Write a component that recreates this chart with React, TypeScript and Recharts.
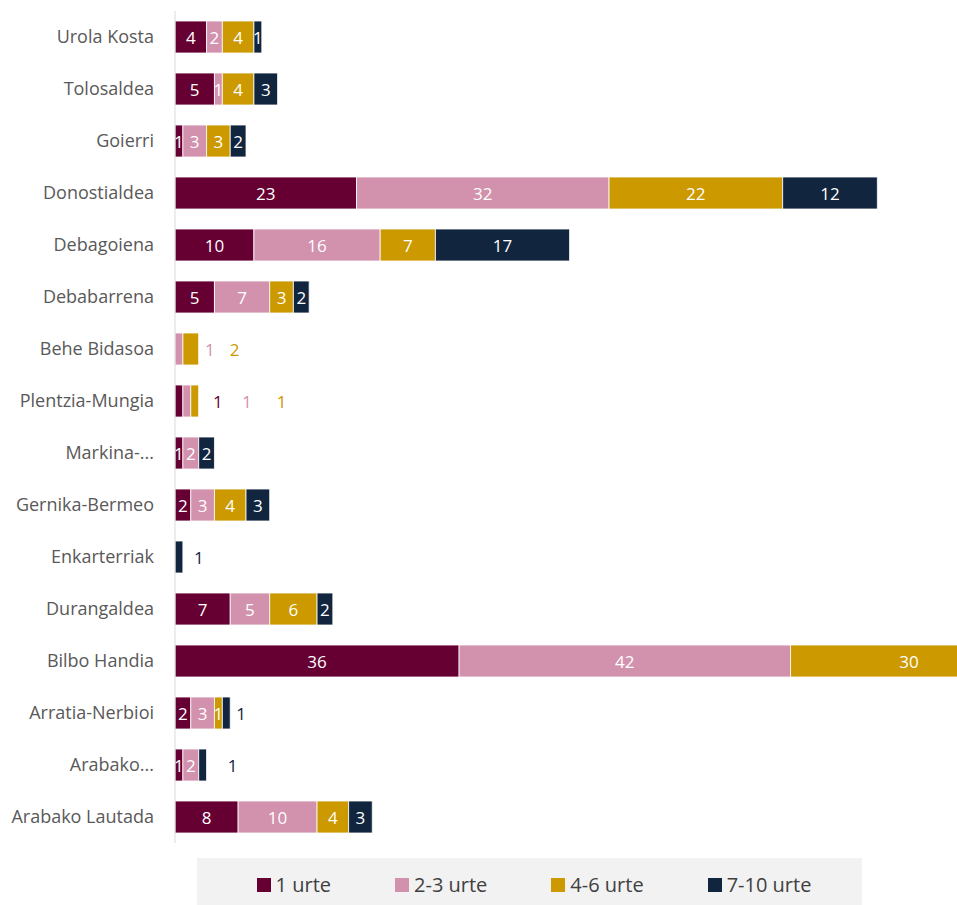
import { BarChart, Bar, XAxis, YAxis, Legend, LabelList } from "recharts";

const regions = [
  "Urola Kosta",
  "Tolosaldea",
  "Goierri",
  "Donostialdea",
  "Debagoiena",
  "Debabarrena",
  "Behe Bidasoa",
  "Plentzia-Mungia",
  "Markina-...",
  "Gernika-Bermeo",
  "Enkarterriak",
  "Durangaldea",
  "Bilbo Handia",
  "Arratia-Nerbioi",
  "Arabako...",
  "Arabako Lautada",
];

const urte1 = [4, 5, 1, 23, 10, 5, 0, 1, 1, 2, 0, 7, 36, 2, 1, 8];
const urte2_3 = [2, 1, 3, 32, 16, 7, 1, 1, 2, 3, 0, 5, 42, 3, 2, 10];
const urte4_6 = [4, 4, 3, 22, 7, 3, 2, 1, 0, 4, 0, 6, 30, 1, 0, 4];
// Bilbo Handia 7-10 falls outside the visible part of the chart
const urte7_10 = [1, 3, 2, 12, 17, 2, 0, 0, 2, 3, 1, 2, 0, 1, 1, 3];

const series = [
  { key: "u1", name: "1 urte", color: "#660033" },
  { key: "u2", name: "2-3 urte", color: "#D291AD" },
  { key: "u3", name: "4-6 urte", color: "#CC9900" },
  { key: "u4", name: "7-10 urte", color: "#11253F" },
];

const data = regions.map((name, i) => ({
  name,
  u1: urte1[i],
  u2: urte2_3[i],
  u3: urte4_6[i],
  u4: urte7_10[i],
}));

// labels Excel pushed outside the bar (px from segment end)
const outsideLabels: Record<string, number> = {
  "Behe Bidasoa|u2": 27,
  "Behe Bidasoa|u3": 36,
  "Plentzia-Mungia|u1": 35,
  "Plentzia-Mungia|u2": 56,
  "Plentzia-Mungia|u3": 83,
  "Enkarterriak|u4": 16,
  "Arratia-Nerbioi|u4": 11,
  "Arabako...|u4": 26,
};

const FONT = "'Open Sans', sans-serif";

function makeLabel(key: string, color: string) {
  return (props: any) => {
    const vb = props.viewBox ?? props;
    const { x, y, width, height } = vb;
    const [cat, raw] = String(props.value).split("|");
    const value = Number(raw);
    if (!value) return null;
    const off = outsideLabels[cat + "|" + key];
    const outside = off !== undefined;
    return (
      <text
        x={outside ? x + width + off : x + width / 2}
        y={y + height / 2}
        fill={outside ? color : "#ffffff"}
        textAnchor="middle"
        dominantBaseline="central"
        fontSize={17}
        fontFamily={FONT}
      >
        {value}
      </text>
    );
  };
}

function LegendBox() {
  return (
    <div
      style={{
        height: 47,
        boxSizing: "border-box",
        paddingTop: 6,
        paddingLeft: 9,
        background: "#F2F2F2",
        display: "flex",
        alignItems: "center",
        justifyContent: "center",
        gap: 64,
        fontFamily: FONT,
        fontSize: 20,
        color: "#404040",
      }}
    >
      {series.map((s) => (
        <div key={s.key} style={{ display: "flex", alignItems: "center" }}>
          <span
            style={{
              width: 14,
              height: 14,
              background: s.color,
              marginRight: 5,
              display: "inline-block",
            }}
          />
          {s.name}
        </div>
      ))}
    </div>
  );
}

export default function App() {
  // chart is wider than the page; Bilbo Handia runs off the right edge
  return (
    <div
      style={{
        width: 957,
        height: 905,
        paddingLeft: 8,
        paddingTop: 8,
        boxSizing: "border-box",
        overflow: "hidden",
        fontFamily: FONT,
      }}
    >
      <style>{"html, body { margin: 0; overflow: hidden; }"}</style>
      <BarChart
        width={1114}
        height={897}
        data={data}
        layout="vertical"
        margin={{ top: 3, right: 0, bottom: 15, left: 0 }}
        barSize={32}
      >
        <XAxis type="number" hide domain={[0, 120]} />
        <YAxis
          type="category"
          dataKey="name"
          width={167}
          tickLine={false}
          tickMargin={15}
          axisLine={{ stroke: "#D9D9D9" }}
          tick={{ fill: "#595959", fontSize: 18, fontFamily: FONT }}
          interval={0}
        />
        <Legend
          verticalAlign="bottom"
          wrapperStyle={{ left: 189, bottom: 0, width: 665, height: 47 }}
          content={() => <LegendBox />}
        />
        {series.map((s) => (
          <Bar
            key={s.key}
            dataKey={s.key}
            name={s.name}
            stackId="a"
            fill={s.color}
            stroke="#ffffff"
            strokeWidth={0.8}
            isAnimationActive={false}
          >
            <LabelList
              dataKey={(row: any) => `${row.name}|${row[s.key]}`}
              content={makeLabel(s.key, s.color)}
            />
          </Bar>
        ))}
      </BarChart>
    </div>
  );
}
